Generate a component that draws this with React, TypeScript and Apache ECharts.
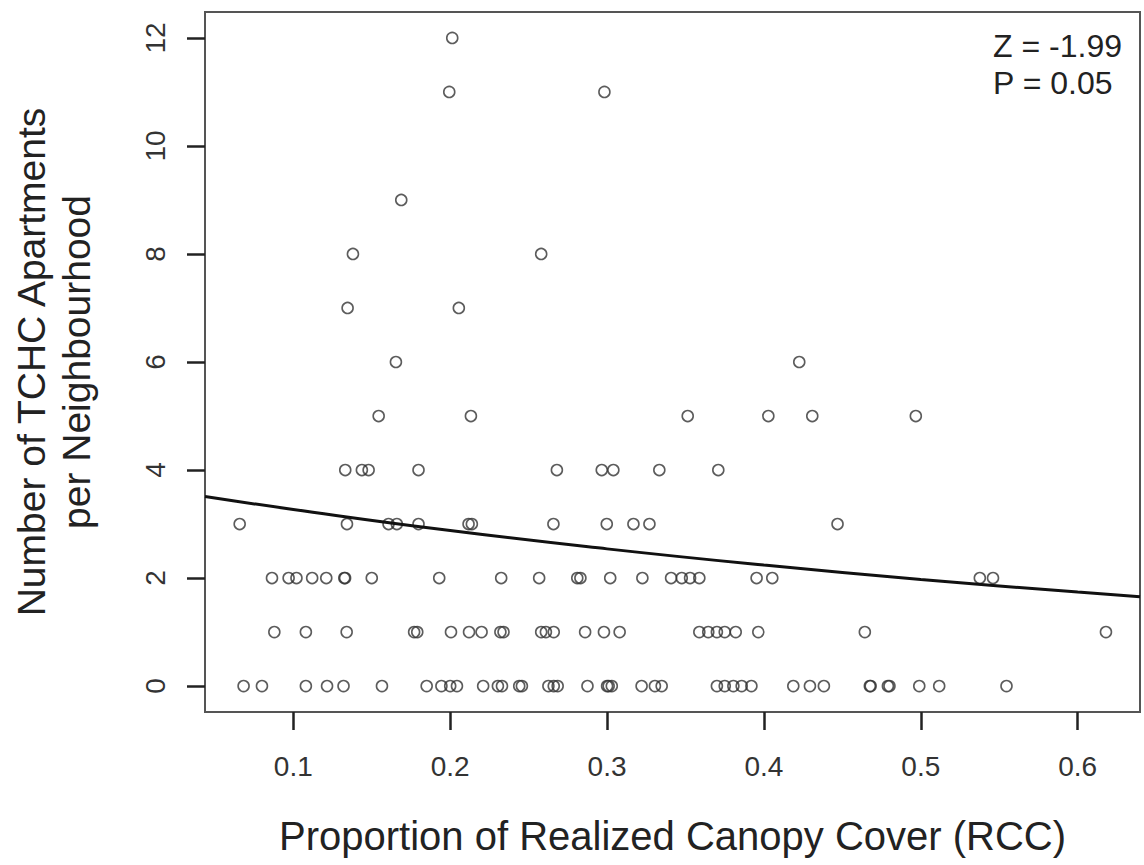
import React, { useEffect, useRef } from "react";
import * as echarts from "echarts";

// Observed neighbourhoods: RCC proportion grouped by number of TCHC apartments
const rccCount0 = [0.0683, 0.080, 0.108, 0.1215, 0.132, 0.1565, 0.185, 0.1944, 0.2, 0.2043, 0.221, 0.2304, 0.233, 0.244, 0.2457, 0.2626, 0.266, 0.2685, 0.2875, 0.300, 0.301, 0.303, 0.322, 0.3305, 0.3348, 0.370, 0.375, 0.3805, 0.3858, 0.392, 0.4187, 0.4293, 0.4382, 0.4675, 0.468, 0.479, 0.480, 0.499, 0.5117, 0.5546];
const rccCount1 = [0.0879, 0.108, 0.134, 0.177, 0.179, 0.2005, 0.212, 0.220, 0.232, 0.234, 0.258, 0.261, 0.266, 0.286, 0.298, 0.308, 0.3588, 0.3645, 0.370, 0.375, 0.382, 0.3964, 0.4643, 0.618];
const rccCount2 = [0.0864, 0.097, 0.102, 0.112, 0.121, 0.1325, 0.133, 0.150, 0.193, 0.2325, 0.2567, 0.281, 0.283, 0.302, 0.3225, 0.3408, 0.3476, 0.3529, 0.3588, 0.3953, 0.4053, 0.5376, 0.546];
const rccCount3 = [0.0658, 0.1342, 0.1607, 0.166, 0.1798, 0.2117, 0.2138, 0.2658, 0.2998, 0.3168, 0.327, 0.4469];
const rccCount4 = [0.1331, 0.1437, 0.148, 0.1798, 0.268, 0.2966, 0.304, 0.3333, 0.3709];
const rccCount5 = [0.1544, 0.2132, 0.3514, 0.4028, 0.4308, 0.4968];
const rccCount6 = [0.1654, 0.4225];
const rccCount7 = [0.1346, 0.2055];
const rccCount8 = [0.138, 0.258];
const rccCount9 = [0.1688];
const rccCount11 = [0.1994, 0.2983];
const rccCount12 = [0.2013];

// Fitted (Poisson) trend line
const fitRcc = [0.0437, 0.1, 0.2, 0.3, 0.4, 0.5, 0.6, 0.6397];
const fitCount = [3.51, 3.27, 2.88, 2.54, 2.24, 1.975, 1.74, 1.656];

const xTicks = [0.1, 0.2, 0.3, 0.4, 0.5, 0.6];
const yTicks = [0, 2, 4, 6, 8, 10, 12];

const groups: [number, number[]][] = [
  [0, rccCount0], [1, rccCount1], [2, rccCount2], [3, rccCount3], [4, rccCount4],
  [5, rccCount5], [6, rccCount6], [7, rccCount7], [8, rccCount8], [9, rccCount9],
  [11, rccCount11], [12, rccCount12],
];

export default function App() {
  const ref = useRef<HTMLDivElement>(null);
  useEffect(() => {
    if (!ref.current) return;
    const chart = echarts.init(ref.current, null, { renderer: "svg" });
    const points: number[][] = [];
    groups.forEach(([count, xs]) => xs.forEach((x) => points.push([x, count])));
    const fitLine = fitRcc.map((x, i) => [x, fitCount[i]]);
    const font = "Liberation Sans, Arial, sans-serif";
    chart.setOption({
      animation: false,
      backgroundColor: "#ffffff",
      grid: {
        left: 205, right: 4, top: 12, bottom: 153,
        show: true, borderColor: "#555", borderWidth: 2, backgroundColor: "transparent",
      },
      xAxis: {
        type: "value",
        min: 0.0437, max: 0.6397,
        splitLine: { show: false },
        axisLine: { show: true, onZero: false, lineStyle: { color: "#555", width: 2 } },
        axisTick: { show: true, inside: false, length: 18, customValues: xTicks, lineStyle: { color: "#222", width: 2.5 } },
        axisLabel: { customValues: xTicks, margin: 40, fontSize: 28, color: "#333", fontFamily: font, formatter: (v: number) => String(Math.round(v * 10) / 10) },
        name: "Proportion of Realized Canopy Cover (RCC)",
        nameLocation: "middle",
        nameGap: 104,
        nameTextStyle: { fontSize: 40, color: "#222", fontFamily: font },
      },
      yAxis: {
        type: "value",
        min: -0.48, max: 12.48,
        splitLine: { show: false },
        axisLine: { show: true, onZero: false, lineStyle: { color: "#555", width: 2 } },
        axisTick: { show: true, inside: false, length: 18, customValues: yTicks, lineStyle: { color: "#222", width: 2.5 } },
        axisLabel: { customValues: yTicks, rotate: 90, margin: 36, fontSize: 28, color: "#333", fontFamily: font },
        name: "Number of TCHC Apartments\nper Neighbourhood",
        nameLocation: "middle",
        nameRotate: 90,
        nameGap: 106,
        nameTextStyle: { fontSize: 39, lineHeight: 45, color: "#222", fontFamily: font, align: "center" },
      },
      series: [
        {
          type: "scatter",
          data: points,
          symbol: "circle",
          symbolSize: 11,
          itemStyle: { color: "rgba(0,0,0,0)", borderColor: "#333", borderWidth: 1.6 },
          z: 3,
        },
        {
          type: "line",
          data: fitLine,
          smooth: true,
          symbol: "none",
          lineStyle: { color: "#111", width: 3 },
          z: 4,
        },
      ],
      graphic: [
        {
          type: "text",
          right: 22,
          top: 27,
          style: {
            text: "Z = -1.99\nP = 0.05",
            fontSize: 32,
            lineHeight: 37,
            fontFamily: font,
            fill: "#222",
            align: "right",
          },
        },
      ],
    });
    return () => chart.dispose();
  }, []);
  return (
    <div
      ref={ref}
      style={{ position: "fixed", left: 0, top: 0, width: 1144, height: 865, background: "#fff" }}
    />
  );
}
